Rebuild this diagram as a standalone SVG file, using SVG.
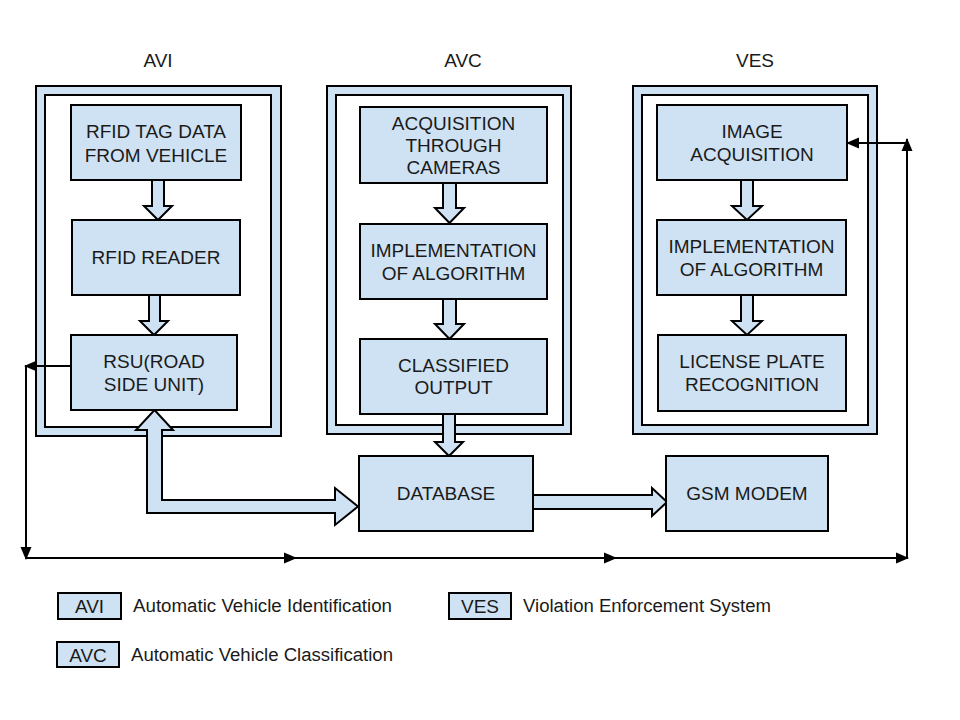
<svg xmlns="http://www.w3.org/2000/svg" width="960" height="720" viewBox="0 0 960 720">
<style>
text{font-family:"Liberation Sans",Arial,sans-serif;fill:#1a1a1a}
.t{font-size:19px;text-anchor:middle}
.h{font-size:19px;text-anchor:middle}
.lg{font-size:18px}
.box{fill:#cfe2f3;stroke:#000;stroke-width:2}
.outer{fill:#cfe2f3;stroke:#000;stroke-width:2}
.inner{fill:#fff;stroke:#000;stroke-width:2}
.blk{fill:#cfe2f3;stroke:#000;stroke-width:2;stroke-linejoin:miter}
.ln{fill:none;stroke:#000;stroke-width:2}
</style>
<defs>
<marker id="ah" markerUnits="userSpaceOnUse" markerWidth="13" markerHeight="13" viewBox="0 0 13 13" refX="12" refY="6.5" orient="auto">
<path d="M0,1 L13,6.5 L0,12 Z" fill="#000"/>
</marker>
</defs>
<rect width="960" height="720" fill="#fff"/>

<g id="titles">
<text class="h" x="158" y="67">AVI</text>
<text class="h" x="463" y="67">AVC</text>
<text class="h" x="755" y="67">VES</text>
</g>

<g id="frame-avi">
<rect class="outer" x="36" y="86" width="245" height="350"/>
<rect class="inner" x="45" y="95" width="226" height="332"/>
</g>
<g id="frame-avc">
<rect class="outer" x="327" y="86" width="244" height="348"/>
<rect class="inner" x="336" y="95" width="227" height="330"/>
</g>
<g id="frame-ves">
<rect class="outer" x="633" y="86" width="244" height="348"/>
<rect class="inner" x="642" y="95" width="226" height="330"/>
</g>

<g id="connectors">
<polygon class="blk" points="152,180 164,180 164,206 172,206 158,220 144,206 152,206"/>
<polygon class="blk" points="149,295 160,295 160,321 168,321 154,335 140,321 149,321"/>
<polygon class="blk" points="443,183 456,183 456,208 464,208 449.5,223 435,208 443,208"/>
<polygon class="blk" points="443,299 456,299 456,324 464,324 449.5,339 435,324 443,324"/>
<polygon class="blk" points="443,414 455,414 455,442 463,442 449,456 435,442 443,442"/>
<polygon class="blk" points="741,180 753,180 753,206 762,206 747,220 732,206 741,206"/>
<polygon class="blk" points="741,295 753,295 753,321 762,321 747,335 732,321 741,321"/>
<polygon class="blk" points="154.5,410 173,430 162,430 162,500 335,500 335,488 358,506.5 335,525 335,513 147,513 147,430 136,430"/>
<polygon class="blk" points="533,495 652,495 652,488 667,502 652,516 652,509 533,509"/>
<line class="ln" x1="71" y1="366" x2="25" y2="366" marker-end="url(#ah)"/>
<line class="ln" x1="26" y1="366" x2="26" y2="559" marker-end="url(#ah)"/>
<line class="ln" x1="25" y1="558" x2="296" y2="558" marker-end="url(#ah)"/>
<line class="ln" x1="294" y1="558" x2="616" y2="558" marker-end="url(#ah)"/>
<line class="ln" x1="614" y1="558" x2="908" y2="558" marker-end="url(#ah)"/>
<line class="ln" x1="907" y1="559" x2="907" y2="139" marker-end="url(#ah)"/>
<line class="ln" x1="907" y1="143" x2="847" y2="143" marker-end="url(#ah)"/>
</g>

<g id="rfid-tag">
<rect class="box" x="71" y="105" width="170" height="75"/>
<text class="t" x="156" y="138">RFID TAG DATA</text>
<text class="t" x="156" y="162">FROM VEHICLE</text>
</g>
<g id="rfid-reader">
<rect class="box" x="72" y="220" width="168" height="75"/>
<text class="t" x="156" y="264">RFID READER</text>
</g>
<g id="rsu">
<rect class="box" x="71" y="335" width="166" height="75"/>
<text class="t" x="154" y="368">RSU(ROAD</text>
<text class="t" x="154" y="391">SIDE UNIT)</text>
</g>

<g id="acquisition-cameras">
<rect class="box" x="360" y="107" width="187" height="76"/>
<text class="t" x="453.5" y="130">ACQUISITION</text>
<text class="t" x="453.5" y="152">THROUGH</text>
<text class="t" x="453.5" y="174">CAMERAS</text>
</g>
<g id="avc-algorithm">
<rect class="box" x="360" y="224" width="187" height="75"/>
<text class="t" x="453.5" y="257">IMPLEMENTATION</text>
<text class="t" x="453.5" y="280">OF ALGORITHM</text>
</g>
<g id="classified-output">
<rect class="box" x="360" y="339" width="187" height="75"/>
<text class="t" x="453.5" y="372">CLASSIFIED</text>
<text class="t" x="453.5" y="394">OUTPUT</text>
</g>

<g id="image-acquisition">
<rect class="box" x="657" y="105" width="190" height="75"/>
<text class="t" x="752" y="138">IMAGE</text>
<text class="t" x="752" y="161">ACQUISITION</text>
</g>
<g id="ves-algorithm">
<rect class="box" x="657" y="220" width="189" height="75"/>
<text class="t" x="751.5" y="253">IMPLEMENTATION</text>
<text class="t" x="751.5" y="276">OF ALGORITHM</text>
</g>
<g id="license-plate">
<rect class="box" x="658" y="335" width="188" height="76"/>
<text class="t" x="752" y="368">LICENSE PLATE</text>
<text class="t" x="752" y="391">RECOGNITION</text>
</g>

<g id="database">
<rect class="box" x="359" y="456" width="174" height="75"/>
<text class="t" x="446" y="500">DATABASE</text>
</g>
<g id="gsm-modem">
<rect class="box" x="666" y="456" width="162" height="75"/>
<text class="t" x="747" y="500">GSM MODEM</text>
</g>

<g id="legend">
<rect class="box" x="58" y="593" width="63" height="26"/>
<text class="t" x="89.5" y="613">AVI</text>
<text class="lg" x="133" y="612" textLength="259" lengthAdjust="spacingAndGlyphs">Automatic Vehicle Identification</text>
<rect class="box" x="449" y="593" width="62" height="26"/>
<text class="t" x="480" y="613">VES</text>
<text class="lg" x="523" y="612" textLength="248" lengthAdjust="spacingAndGlyphs">Violation Enforcement System</text>
<rect class="box" x="57" y="642" width="62" height="25"/>
<text class="t" x="88" y="662">AVC</text>
<text class="lg" x="131" y="661" textLength="262" lengthAdjust="spacingAndGlyphs">Automatic Vehicle Classification</text>
</g>
</svg>
